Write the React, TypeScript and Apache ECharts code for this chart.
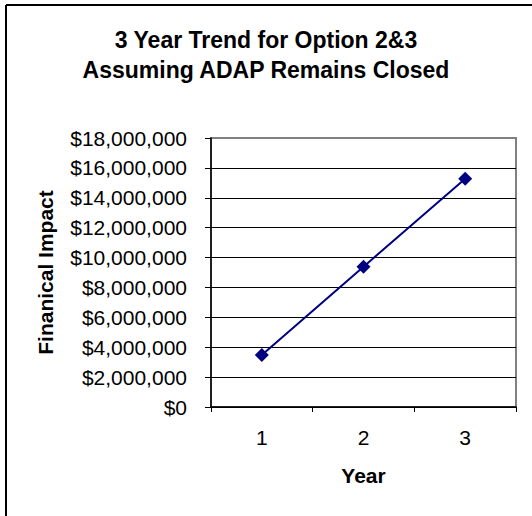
import React, { useEffect, useRef } from "react";
import * as echarts from "echarts";

const titleLines = ["3 Year Trend for Option 2&3", "Assuming ADAP Remains Closed"];
const years = ["1", "2", "3"];
const impact = [3480000, 9390000, 15270000];
const yTicks = { min: 0, max: 18000000, interval: 2000000 };
const yAxisName = "Finanical Impact";
const xAxisName = "Year";

const FONT = "Liberation Sans, Arial, sans-serif";

export default function App() {
  const ref = useRef<HTMLDivElement>(null);
  useEffect(() => {
    if (!ref.current) return;
    const chart = echarts.init(ref.current, null, { renderer: "svg" });
    const gridColors = Array.from({ length: 10 }, (_, i) => (i === 9 ? "#808080" : "#000000"));
    chart.setOption({
      animation: false,
      backgroundColor: "#ffffff",
      textStyle: { fontFamily: FONT },
      graphic: [
        {
          type: "rect",
          shape: { x: 519, y: 0, width: 13, height: 516 },
          style: { fill: "#ffffff" },
          z: 100,
          silent: true,
        },
        {
          type: "line",
          shape: { x1: 6, y1: 5, x2: 532, y2: 5 },
          style: { stroke: "#000000", lineWidth: 2 },
          z: 101,
          silent: true,
        },
        {
          type: "line",
          shape: { x1: 6, y1: 5, x2: 6, y2: 516 },
          style: { stroke: "#000000", lineWidth: 2 },
          silent: true,
        },
      ],
      title: {
        text: titleLines.join("\n"),
        left: "center",
        top: 20,
        textStyle: { fontFamily: FONT, fontSize: 23, fontWeight: "bold", color: "#000", lineHeight: 30 },
      },
      grid: {
        left: 211,
        right: 16,
        top: 138,
        bottom: 109,
        show: true,
        borderColor: "#808080",
        borderWidth: 2,
        backgroundColor: "#ffffff",
      },
      xAxis: {
        type: "category",
        data: years,
        boundaryGap: true,
        name: xAxisName,
        nameLocation: "middle",
        nameGap: 58,
        nameTextStyle: { fontFamily: FONT, fontSize: 21, fontWeight: "bold", color: "#000" },
        axisLine: { show: true, lineStyle: { color: "#000", width: 1.5 } },
        axisTick: { show: true, alignWithLabel: false, length: 5, lineStyle: { color: "#000" } },
        axisLabel: { fontFamily: FONT, fontSize: 21, color: "#000", margin: 20 },
        splitLine: { show: false },
      },
      yAxis: {
        type: "value",
        min: yTicks.min,
        max: yTicks.max,
        interval: yTicks.interval,
        name: yAxisName,
        nameLocation: "middle",
        nameRotate: 90,
        nameGap: 155,
        nameTextStyle: { fontFamily: FONT, fontSize: 21, fontWeight: "bold", color: "#000" },
        axisLine: { show: true, lineStyle: { color: "#000", width: 1.5 } },
        axisTick: { show: true, length: 6, lineStyle: { color: "#000" } },
        axisLabel: {
          fontFamily: FONT,
          fontSize: 21,
          color: "#000",
          margin: 24,
          formatter: (v: number) => "$" + v.toLocaleString("en-US"),
        },
        splitLine: { show: true, lineStyle: { color: gridColors, width: 1 } },
      },
      series: [
        {
          type: "line",
          data: impact,
          symbol: "diamond",
          symbolSize: 14,
          lineStyle: { color: "#000080", width: 2 },
          itemStyle: { color: "#000080" },
        },
      ],
    });
    return () => chart.dispose();
  }, []);
  return (
    <div
      ref={ref}
      style={{ position: "fixed", left: 0, top: 0, width: 532, height: 516 }}
    />
  );
}
